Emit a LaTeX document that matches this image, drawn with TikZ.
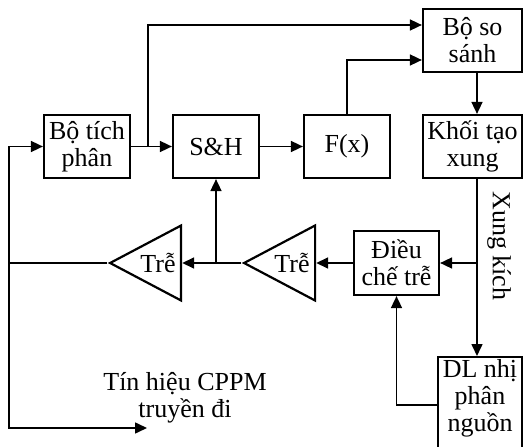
\documentclass[tikz,border=0pt]{standalone}
\usepackage{fontspec}
\setmainfont{Liberation Serif}
\usetikzlibrary{positioning,shapes.geometric,arrows.meta}
\tikzset{
  block/.style = {
    draw, line width=2.2pt, align=center,
    minimum width=86, minimum height=63, inner sep=2pt
  },
  delay/.style = {
    draw, line width=2.2pt, isosceles triangle,
    isosceles triangle stretches, shape border rotate=180,
    minimum width=75, minimum height=71, inner sep=0pt
  },
  wire/.style = {line width=1.6pt},
  arr/.style  = {wire, -{Triangle[length=12pt,width=11pt]}}
}

\begin{document}
\begin{tikzpicture}[x=1pt,y=-1pt,font=\fontsize{26}{27}\selectfont]
\pgfmathsetmacro{\yTop}{40.5}   % comparator row
\pgfmathsetmacro{\yMid}{146.5}  % main row
\pgfmathsetmacro{\yLow}{263}    % delay row
\pgfmathsetmacro{\xBus}{477}    % pulse line

\useasboundingbox (0,0) rectangle (523,447);
\clip (0,0) rectangle (523,447);

% main row
\node[block] (integ) at (87,\yMid)  {Bộ tích\\phân};
\node[block] (sh)    at (216,\yMid) {S\&H};
\node[block] (fx)    at (347,\yMid) {F(x)};
\node[block,minimum width=99] (gen) at (472.5,\yMid) {Khối tạo\\xung};
\node[block,minimum width=99] (cmp) at (472.5,\yTop) {Bộ so\\sánh};

% delay row
\node[block,minimum width=85,minimum height=64] (mod) at (396.5,\yLow) {Điều\\chế trễ};
\node[delay] (tri2) at (292,\yLow) {Trễ};
\node[delay] (tri1) at (158,\yLow) {Trễ};

% source data (runs off the bottom)
\node[block,minimum width=84,minimum height=0,anchor=north,text depth=80pt]
  (src) at (480,356) {DL nhị\\phân\\nguồn};

% split points
\coordinate (split1) at (148,\yMid);
\coordinate (loopL)  at (9,\yLow);
\coordinate (out)    at (147,428);

% forward path
\draw[arr] (integ) -- (sh);
\draw[arr] (sh) -- (fx);
\draw[arr] (split1) |- ([yshift=15.5pt]cmp.west);
\draw[arr] (fx.north) |- ([yshift=-19.5pt]cmp.west);
\draw[arr] (cmp.south -| \xBus,0) -- (gen.north -| \xBus,0);

% pulse line
\draw[arr] (gen.south -| \xBus,0) -- (src.north -| \xBus,0);
\draw[arr] (mod.east -| \xBus,0) -- (mod.east);
\node[rotate=-90] (pulselbl) at (499,246) {Xung kích};

% delay chain
\draw[arr] (src.west |- 0,405) -| (mod.south);
\draw[arr] (mod.west) -- (tri2.lower side);
\draw[arr] (tri2.apex) -- (tri1.lower side);
\draw[arr] (sh.south |- tri2.apex) -- (sh.south);

% feedback and output
\draw[wire] (tri1.apex) -- (loopL);
\draw[arr] (loopL) |- (integ.west);
\draw[arr] (loopL) |- (out);
\node[align=center] (outlbl) at (185,398) {Tín hiệu CPPM\\truyền đi};
\end{tikzpicture}
\end{document}
